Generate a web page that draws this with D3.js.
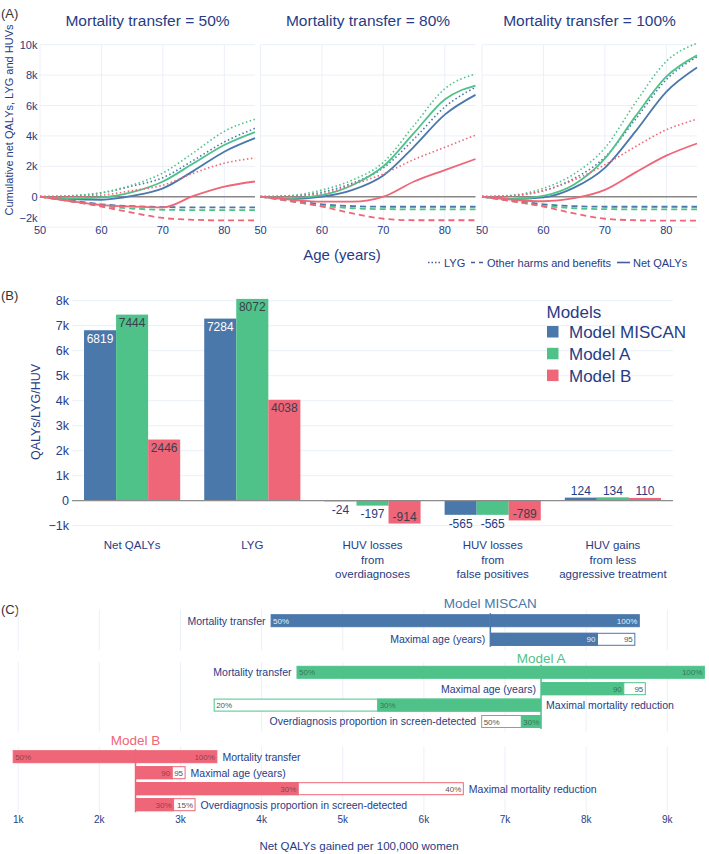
<!DOCTYPE html>
<html>
<head>
<meta charset="utf-8">
<script src="https://d3js.org/d3.v7.min.js"></script>
<style>
  body { margin: 0; background: #fff; }
  svg { font-family: "Liberation Sans", Arial, sans-serif; }
</style>
</head>
<body>
<svg id="chart" width="709" height="854"></svg>
<script>
// ---- data ----
const models = ["Model MISCAN", "Model A", "Model B"];
const colors = ["#4a78aa", "#4fc28a", "#ee6677"];

// (A) cumulative values by age, one row per mortality transfer (50%, 80%, 100%)
const ages = [50, 55, 60, 65, 70, 75, 80, 85];
const transfers = ["50%", "80%", "100%"];
const lygMiscan = [
  [0, 50, 250, 700, 1250, 2400, 3600, 4500],
  [0, 50, 300, 900, 1900, 3800, 5900, 7200],
  [0, 70, 400, 1200, 2600, 5100, 7700, 9200]];
const harmMiscan = [
  [0, -250, -500, -620, -680, -700, -700, -700],
  [0, -250, -500, -620, -660, -660, -660, -660],
  [0, -250, -500, -620, -660, -660, -660, -660]];
const netMiscan = [
  [0, -150, -200, 50, 550, 1700, 2960, 3850],
  [0, -150, 0, 450, 1400, 3300, 5400, 6700],
  [0, -150, -50, 600, 1900, 4300, 6900, 8500]];
const lygA = [
  [0, 70, 260, 770, 1560, 2900, 4300, 5100],
  [0, 80, 440, 1100, 2260, 4700, 7100, 8070],
  [0, 100, 550, 1500, 3200, 6200, 8900, 10100]];
const harmA = [
  [0, -300, -600, -780, -860, -880, -880, -880],
  [0, -300, -600, -760, -820, -830, -830, -830],
  [0, -300, -600, -760, -820, -830, -830, -830]];
const netA = [
  [0, -120, -50, 300, 1000, 2200, 3400, 4250],
  [0, -100, 100, 770, 2000, 4200, 6400, 7300],
  [0, -150, 50, 800, 2500, 5300, 7900, 9300]];
const lygB = [
  [0, 20, 100, 400, 750, 1550, 2200, 2550],
  [0, 40, 200, 800, 1500, 2450, 3250, 4050],
  [0, 70, 400, 1100, 2100, 3300, 4400, 5100]];
const harmB = [
  [0, -300, -650, -1050, -1400, -1520, -1560, -1560],
  [0, -300, -650, -1100, -1450, -1550, -1550, -1550],
  [0, -300, -650, -1100, -1450, -1550, -1580, -1580]];
const netB = [
  [0, -300, -550, -650, -700, 50, 660, 1000],
  [0, -200, -330, -330, 0, 1000, 1750, 2480],
  [0, -200, -300, -100, 450, 1600, 2700, 3500]];
const yTicksA = [-2000, 0, 2000, 4000, 6000, 8000, 10000];
const xTicksA = [50, 60, 70, 80];

// (B) totals per outcome
const categories = [["Net QALYs"], ["LYG"], ["HUV losses", "from", "overdiagnoses"],
  ["HUV losses", "from", "false positives"], ["HUV gains", "from less", "aggressive treatment"]];
const barMiscan = [6819, 7284, -24, -565, 124];
const barA = [7444, 8072, -197, -565, 134];
const barB = [2446, 4038, -914, -789, 110];
const yTicksB = [-1000, 0, 1000, 2000, 3000, 4000, 5000, 6000, 7000, 8000];

// (C) one-way sensitivity, net QALYs for two alternative parameter values
const paramsMiscan = ["Mortality transfer", "Maximal age (years)"];
const valsMiscan = [[4111, 8661], [8146, 8606]];
const lblsMiscan = [["50%", "100%"], ["90", "95"]];
const openMiscan = [[false, false], [false, true]];
const sideMiscan = ["left", "left"];

const paramsFull = ["Mortality transfer", "Maximal age (years)", "Maximal mortality reduction",
  "Overdiagnosis proportion in screen-detected"];
const valsA = [[4430, 9463], [8470, 8735], [3409, 5424], [6706, 7194]];
const lblsA = [["50%", "100%"], ["90", "95"], ["20%", "30%"], ["50%", "30%"]];
const openA = [[false, false], [false, true], [true, false], [true, false]];
const sideA = ["left", "left", "right", "left"];

const valsB = [[932, 3455], [2905, 3063], [4458, 6492], [2921, 3186]];
const lblsB = [["50%", "100%"], ["90", "95"], ["30%", "40%"], ["30%", "15%"]];
const openB = [[false, false], [false, true], [false, true], [false, true]];
const sideB = ["right", "right", "right", "right"];
const xTicksC = [1000, 2000, 3000, 4000, 5000, 6000, 7000, 8000, 9000];

// ---- drawing ----
const svg = d3.select("#chart");
const ink = "#273c85";
const grid = "#ebf0f8";
const fmtK = v => v === 0 ? "0" : (v < 0 ? "\u2212" : "") + Math.abs(v / 1000) + "k";

function panelLabel(txt, x, y) {
  svg.append("text").attr("x", x).attr("y", y).attr("font-size", 13)
    .attr("fill", "#333").text(txt);
}

// Panel A
panelLabel("(A)", 1, 18);
const yA = d3.scaleLinear().domain([-2000, 10000]).range([227.1, 44.7]);
const subX = [40, 260.5, 482];
const subW = 215;
const lygAll = [lygMiscan, lygA, lygB];
const harmAll = [harmMiscan, harmA, harmB];
const netAll = [netMiscan, netA, netB];

transfers.forEach((t, i) => {
  const x = d3.scaleLinear().domain([50, 85]).range([subX[i], subX[i] + subW]);
  const g = svg.append("g");
  g.selectAll(".hg").data(yTicksA).join("line")
    .attr("x1", x(50)).attr("x2", x(85)).attr("y1", d => yA(d)).attr("y2", d => yA(d))
    .attr("stroke", grid).attr("stroke-width", 1);
  g.selectAll(".vg").data(xTicksA).join("line")
    .attr("x1", d => x(d)).attr("x2", d => x(d)).attr("y1", yA(10000)).attr("y2", yA(-2000))
    .attr("stroke", grid).attr("stroke-width", 1);
  g.append("line").attr("x1", x(50)).attr("x2", x(85)).attr("y1", yA(0)).attr("y2", yA(0))
    .attr("stroke", "#888").attr("stroke-width", 1.5);

  const line = d3.line().x((d, k) => x(ages[k])).y(d => yA(d)).curve(d3.curveMonotoneX);
  const styles = [
    { src: lygAll, dash: "1.5,2.5", w: 1.6 },
    { src: harmAll, dash: "6,4", w: 1.8 },
    { src: netAll, dash: null, w: 1.8 }];
  models.forEach((m, mi) => {
    styles.forEach(s => {
      g.append("path").datum(s.src[mi][i])
        .attr("fill", "none").attr("stroke", colors[mi]).attr("stroke-width", s.w)
        .attr("stroke-dasharray", s.dash).attr("d", line);
    });
  });

  g.append("text").attr("x", (x(50) + x(85)) / 2).attr("y", 26)
    .attr("text-anchor", "middle").attr("font-size", 15.5).attr("fill", ink)
    .text("Mortality transfer = " + t);
  g.selectAll(".xt").data(xTicksA).join("text")
    .attr("x", d => x(d)).attr("y", 234).attr("text-anchor", "middle")
    .attr("font-size", 11).attr("fill", ink).text(d => d);
  if (i === 0) {
    g.selectAll(".yt").data(yTicksA).join("text")
      .attr("x", 37.5).attr("y", d => yA(d) + 4 - (d === -2000 ? 9 : 0))
      .attr("text-anchor", "end").attr("font-size", 11).attr("fill", ink).text(fmtK);
  }
});
svg.append("text").attr("transform", "translate(12.5,120) rotate(-90)")
  .attr("text-anchor", "middle").attr("font-size", 11).attr("fill", ink)
  .text("Cumulative net QALYs, LYG and HUVs");
svg.append("text").attr("x", 342).attr("y", 260).attr("text-anchor", "middle")
  .attr("font-size", 15).attr("fill", ink).text("Age (years)");

// legend A
const legA = [
  { x: 428, dash: "1.5,2", label: "LYG" },
  { x: 471, dash: "4,4", label: "Other harms and benefits" },
  { x: 617, dash: null, label: "Net QALYs" }];
legA.forEach(l => {
  svg.append("line").attr("x1", l.x).attr("x2", l.x + 13).attr("y1", 262.5).attr("y2", 262.5)
    .attr("stroke", "#4a5c98").attr("stroke-width", 1.6).attr("stroke-dasharray", l.dash);
  svg.append("text").attr("x", l.x + 16).attr("y", 266.5).attr("font-size", 11)
    .attr("fill", ink).text(l.label);
});

// Panel B
panelLabel("(B)", 1, 300);
const yB = d3.scaleLinear().domain([-1300, 8300]).range([533.2, 293.2]);
const xB = d3.scaleBand().domain(d3.range(categories.length)).range([72, 673])
  .paddingInner(0.2).paddingOuter(0.1);
const xSub = d3.scaleBand().domain(d3.range(3)).range([0, xB.bandwidth()]);
const barAll = [barMiscan, barA, barB];

svg.selectAll(".gb").data(yTicksB.filter(d => d !== 0)).join("line")
  .attr("x1", 72).attr("x2", 673).attr("y1", d => yB(d)).attr("y2", d => yB(d))
  .attr("stroke", grid);
svg.selectAll(".ytb").data(yTicksB).join("text")
  .attr("x", 69).attr("y", d => yB(d) + 4.5).attr("text-anchor", "end")
  .attr("font-size", 12.5).attr("fill", ink).text(fmtK);

models.forEach((m, mi) => {
  barAll[mi].forEach((v, ci) => {
    const x0 = xB(ci) + xSub(mi);
    const w = xSub.bandwidth();
    const yTop = yB(Math.max(0, v)), yBot = yB(Math.min(0, v));
    svg.append("rect").attr("x", x0).attr("y", yTop).attr("width", w)
      .attr("height", yBot - yTop).attr("fill", colors[mi]);
    const inside = (yBot - yTop) > 16;
    let ty;
    if (v >= 0) ty = inside ? yTop + 12.5 : yTop - 2.7;
    else ty = inside ? yBot - 2.8 : yBot + 12.8;
    svg.append("text").attr("x", x0 + w / 2).attr("y", ty).attr("text-anchor", "middle")
      .attr("font-size", 12)
      .attr("fill", inside ? (mi === 0 ? "#fff" : "#3a3f4f") : ink)
      .text(v);
  });
});
svg.append("line").attr("x1", 72).attr("x2", 673).attr("y1", yB(0)).attr("y2", yB(0))
  .attr("stroke", "#8c8c8c").attr("stroke-width", 1.2);

categories.forEach((lines, ci) => {
  const t = svg.append("text").attr("text-anchor", "middle").attr("font-size", 11.5)
    .attr("fill", ink);
  lines.forEach((s, k) => {
    t.append("tspan").attr("x", xB(ci) + xB.bandwidth() / 2).attr("y", 549 + k * 14.5).text(s);
  });
});
svg.append("text").attr("transform", "translate(39.5,412) rotate(-90)")
  .attr("text-anchor", "middle").attr("font-size", 12.5).attr("fill", ink)
  .text("QALYs/LYG/HUV");

// legend B
svg.append("text").attr("x", 546.5).attr("y", 317.5).attr("font-size", 17)
  .attr("fill", ink).text("Models");
models.forEach((m, mi) => {
  const cy = 332 + mi * 21.8;
  svg.append("rect").attr("x", 547).attr("y", cy - 6).attr("width", 11.5).attr("height", 11.5)
    .attr("fill", colors[mi]);
  svg.append("text").attr("x", 569).attr("y", cy + 6).attr("font-size", 17)
    .attr("fill", ink).text(m);
});

// Panel C
panelLabel("(C)", 1, 614);
const xC = d3.scaleLinear().domain([1000, 9000]).range([18.2, 667.3]);
const cPanels = [
  { params: paramsMiscan, vals: valsMiscan, lbls: lblsMiscan, open: openMiscan, side: sideMiscan,
    top: 611.4, step: 18.6, titleY: 608 },
  { params: paramsFull, vals: valsA, lbls: lblsA, open: openA, side: sideA,
    top: 664.1, step: 16.4, titleY: 663 },
  { params: paramsFull, vals: valsB, lbls: lblsB, open: openB, side: sideB,
    top: 748.7, step: 16.0, titleY: 744.5 }];

cPanels.forEach((p, mi) => {
  const base = barAll[mi][0];
  const col = colors[mi];
  const y = d3.scaleBand().domain(p.params).range([p.top, p.top + p.step * p.params.length]);
  const bh = 12;
  const g = svg.append("g");
  g.selectAll(".vg").data(xTicksC).join("line")
    .attr("x1", d => xC(d)).attr("x2", d => xC(d))
    .attr("y1", p.top - 2).attr("y2", p.top + p.step * p.params.length + 2)
    .attr("stroke", grid);
  const cy = s => y(s) + y.bandwidth() / 2;
  g.append("line").attr("x1", xC(base)).attr("x2", xC(base))
    .attr("y1", cy(p.params[0]) - bh / 2 - 1.5)
    .attr("y2", cy(p.params[p.params.length - 1]) + bh / 2 + 1.5)
    .attr("stroke", col).attr("stroke-width", 1.5);

  p.params.forEach((s, ri) => {
    const order = [0, 1].sort((a, b) => (p.open[ri][b] ? 1 : 0) - (p.open[ri][a] ? 1 : 0));
    order.forEach(k => {
      const v = p.vals[ri][k];
      const isOpen = p.open[ri][k];
      const x0 = xC(Math.min(v, base)), x1 = xC(Math.max(v, base));
      g.append("rect").attr("x", x0 + 0.5).attr("y", cy(s) - bh / 2)
        .attr("width", Math.max(0, x1 - x0 - 1)).attr("height", bh)
        .attr("fill", isOpen ? "#fff" : col).attr("stroke", col).attr("stroke-width", 1);
    });
    order.forEach(k => {
      const v = p.vals[ri][k];
      const isOpen = p.open[ri][k];
      const left = v < base;
      g.append("text").attr("x", left ? xC(v) + 2.5 : xC(v) - 2.5).attr("y", cy(s) + 3)
        .attr("text-anchor", left ? "start" : "end").attr("font-size", 8)
        .attr("fill", isOpen ? "#555" : (mi === 0 ? "rgba(255,255,255,0.9)" : "rgba(40,40,40,0.55)"))
        .text(p.lbls[ri][k]);
    });
    const ext = p.vals[ri].concat([base]);
    const onLeft = p.side[ri] === "left";
    g.append("text")
      .attr("x", onLeft ? xC(d3.min(ext)) - 5 : xC(d3.max(ext)) + 5)
      .attr("y", cy(s) + 3.8).attr("text-anchor", onLeft ? "end" : "start")
      .attr("font-size", 10.5).attr("fill", ink).text(s);
  });
  g.append("text").attr("x", xC(base)).attr("y", p.titleY).attr("text-anchor", "middle")
    .attr("font-size", 13.5).attr("fill", col).text(models[mi]);
});

svg.selectAll(".xtc").data(xTicksC).join("text")
  .attr("x", d => xC(d)).attr("y", 822.5).attr("text-anchor", "middle")
  .attr("font-size", 10).attr("fill", ink).text(fmtK);
svg.append("text").attr("x", 359).attr("y", 850).attr("text-anchor", "middle")
  .attr("font-size", 11.5).attr("fill", ink).text("Net QALYs gained per 100,000 women");
</script>
</body>
</html>
